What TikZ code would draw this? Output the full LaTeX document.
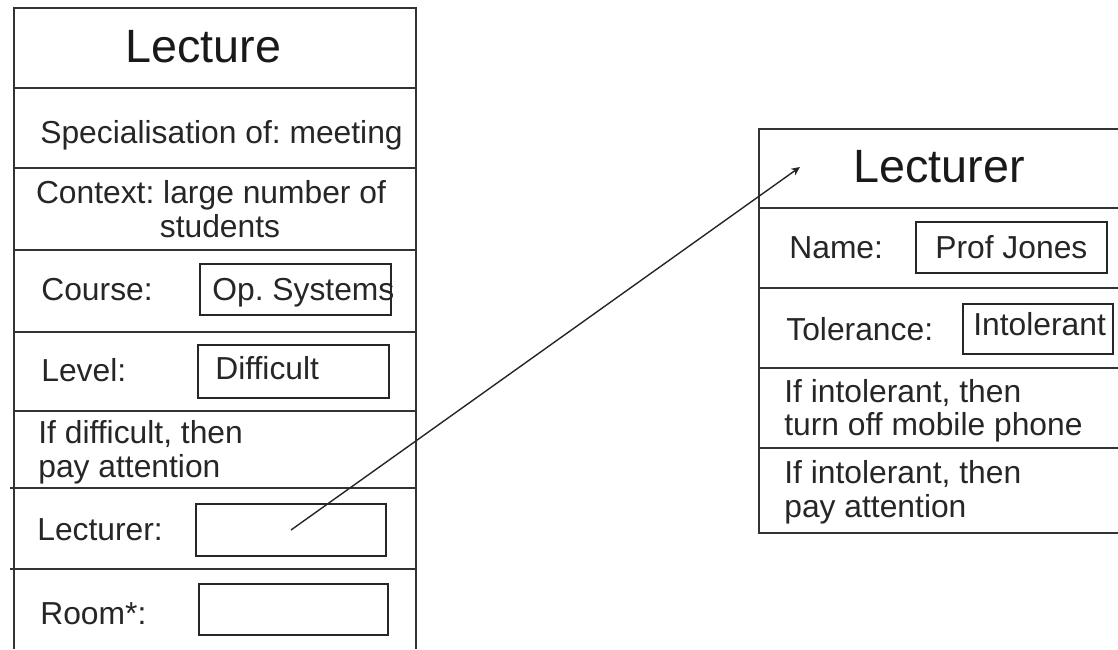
\documentclass[tikz,border=0pt]{standalone}
\usepackage{fontspec}
\setmainfont{Liberation Sans}
\usetikzlibrary{positioning,arrows.meta}
\frenchspacing

\begin{document}
\begin{tikzpicture}[x=0.02cm,y=-0.02cm,
  frame/.style={line width=0.9pt,black!80},
  slot/.style={draw,line width=0.9pt,black!85,inner sep=0pt},
  title/.style={anchor=base west,inner sep=0pt,text=black!90,font=\fontsize{26.6}{32}\selectfont},
  txt/.style={anchor=base west,inner sep=0pt,text=black!85,font=\fontsize{18.1}{21}\selectfont},
  arr/.style={-{Stealth[length=5pt,width=4.5pt]},line width=0.8pt,black!85}]
  \useasboundingbox (0,0) rectangle (1118,649);

  % Frame 1: Lecture
  \draw[frame] (14,649) -- (14,8) -- (416,8) -- (416,649);
  \draw[frame] (14,88) -- (416,88); \draw[frame] (14,168) -- (416,168);
  \draw[frame] (14,250) -- (416,250); \draw[frame] (14,332) -- (416,332);
  \draw[frame] (14,411) -- (416,411); \draw[frame] (10,488) -- (416,488);
  \draw[frame] (10,569) -- (416,569);
  \node[title] (lecture) at (125,62) {Lecture};
  \node[txt] (spec) at (40,143) {Specialisation of: meeting};
  \node[txt,anchor=base] (ctx1) at (211,203) {Context: large number of};
  \node[txt,anchor=base] (ctx2) at (220,237) {students};
  % Slots
  \node[txt] (course) at (41,300) {Course:};
  \node[slot,minimum width=3.82cm,minimum height=1.02cm] (courseslot) at (295.5,289.5) {};
  \node[txt] (courseval) at (212,300) {Op. Systems};
  \node[txt] (level) at (41,381) {Level:};
  \node[slot,minimum width=3.82cm,minimum height=1.06cm] (levelslot) at (293.5,371.5) {};
  \node[txt] (levelval) at (215,379) {Difficult};
  \node[txt] (rule1a) at (38,443) {If difficult, then};
  \node[txt] (rule1b) at (38,477) {pay attention};
  \node[txt] (lecturer) at (37,540) {Lecturer:};
  \node[slot,minimum width=3.80cm,minimum height=1.04cm] (lecslot) at (291,530) {};
  \node[txt] (room) at (40,624) {Room*:};
  \node[slot,minimum width=3.78cm,minimum height=1.02cm] (roomslot) at (293.5,609.5) {};

  % Frame 2: Lecturer
  \draw[frame] (1118,129) -- (759,129) -- (759,533) -- (1118,533);
  \draw[frame] (759,208) -- (1118,208); \draw[frame] (759,288) -- (1118,288);
  \draw[frame] (759,368) -- (1118,368); \draw[frame] (759,448) -- (1118,448);
  \node[title] (lecturertitle) at (853,182) {Lecturer};
  \node[txt] (name) at (789,258) {Name:};
  \node[slot,minimum width=3.82cm,minimum height=1.02cm] (nameslot) at (1011.5,247.5) {};
  \node[txt] (nameval) at (935,258) {Prof Jones};
  \node[txt] (tol) at (786,340) {Tolerance:};
  \node[slot,minimum width=3.0cm,minimum height=1.0cm] (tolslot) at (1038,329) {};
  \node[txt] (tolval) at (973,335) {Intolerant};
  \node[txt] (rule2a) at (784,402) {If intolerant, then};
  \node[txt] (rule2b) at (784,435) {turn off mobile phone};
  \node[txt] (rule3a) at (784,483) {If intolerant, then};
  \node[txt] (rule3b) at (784,517) {pay attention};

  % Link from slot to frame
  \coordinate (tip) at (800,167);
  \draw[arr] (lecslot.center) -- (tip);
\end{tikzpicture}
\end{document}
